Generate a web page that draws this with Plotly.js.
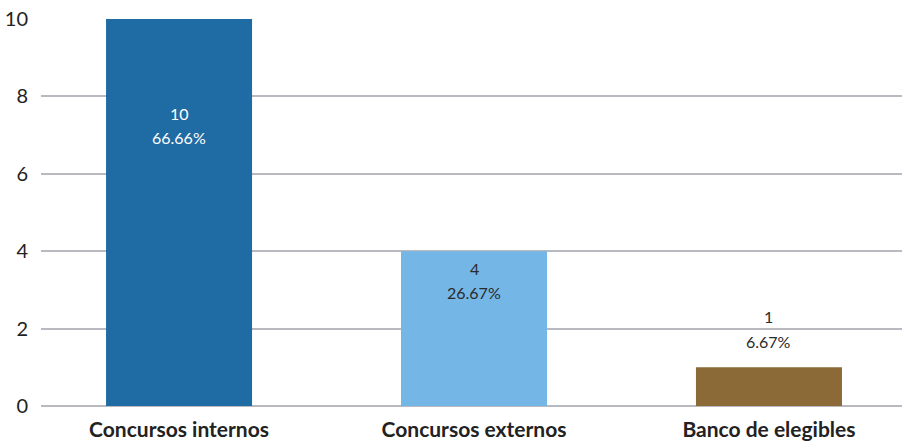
<!DOCTYPE html>
<html>
<head>
<meta charset="utf-8">
<script src="https://cdn.plot.ly/plotly-3.0.1.min.js"></script>
<style>html,body{margin:0;padding:0;background:#fff;}#chart{width:902px;height:441px;}</style>
</head>
<body>
<div id="chart"></div>
<script>
const categories = ["Concursos internos", "Concursos externos", "Banco de elegibles"];
const counts = [10, 4, 1];
const percentLabels = ["66.66%", "26.67%", "6.67%"];
const barColors = ["#1f6ba3", "#74b7e6", "#8b6a37"];
const textColors = ["#ffffff", "#2a2a2a", "#2a2a2a"];
// label offsets (px) relative to bar top: [count line, percent line]
const labelShifts = [[-94, -118], [-17, -41], [51, 26]];

const trace = {
  type: "bar",
  x: categories,
  y: counts,
  marker: { color: barColors },
  width: 0.495,
  hoverinfo: "skip"
};

const annotations = [];
categories.forEach((c, i) => {
  annotations.push({
    x: c, y: counts[i], xref: "x", yref: "y",
    text: String(counts[i]), showarrow: false,
    yanchor: "middle", yshift: labelShifts[i][0],
    font: { family: "Lato, 'Open Sans', sans-serif", size: 16, color: textColors[i] }
  });
  annotations.push({
    x: c, y: counts[i], xref: "x", yref: "y",
    text: percentLabels[i], showarrow: false,
    yanchor: "middle", yshift: labelShifts[i][1],
    font: { family: "Lato, 'Open Sans', sans-serif", size: 16, color: textColors[i] }
  });
});

const layout = {
  width: 902, height: 441,
  margin: { l: 41, r: 0, t: 19, b: 35 },
  paper_bgcolor: "#ffffff",
  plot_bgcolor: "#ffffff",
  showlegend: false,
  xaxis: {
    type: "category",
    range: [-0.468, 2.451],
    showgrid: false,
    showline: false,
    zeroline: false,
    ticks: "outside", ticklen: 5, tickcolor: "rgba(0,0,0,0)",
    tickfont: { family: "Lato, 'Open Sans', sans-serif", size: 21, color: "#222222", weight: "bold" }
  },
  yaxis: {
    range: [0, 10],
    tickvals: [0, 2, 4, 6, 8, 10],
    showgrid: true,
    gridcolor: "#b9b9c1",
    gridwidth: 2,
    zeroline: true,
    zerolinecolor: "#b9b9c1",
    zerolinewidth: 2,
    showline: false,
    ticks: "outside", ticklen: 8, tickcolor: "rgba(0,0,0,0)",
    tickfont: { family: "Lato, 'Open Sans', sans-serif", size: 20, color: "#222222" }
  },
  annotations: annotations
};

Plotly.newPlot("chart", [trace], layout, { staticPlot: true, displayModeBar: false });
</script>
</body>
</html>
